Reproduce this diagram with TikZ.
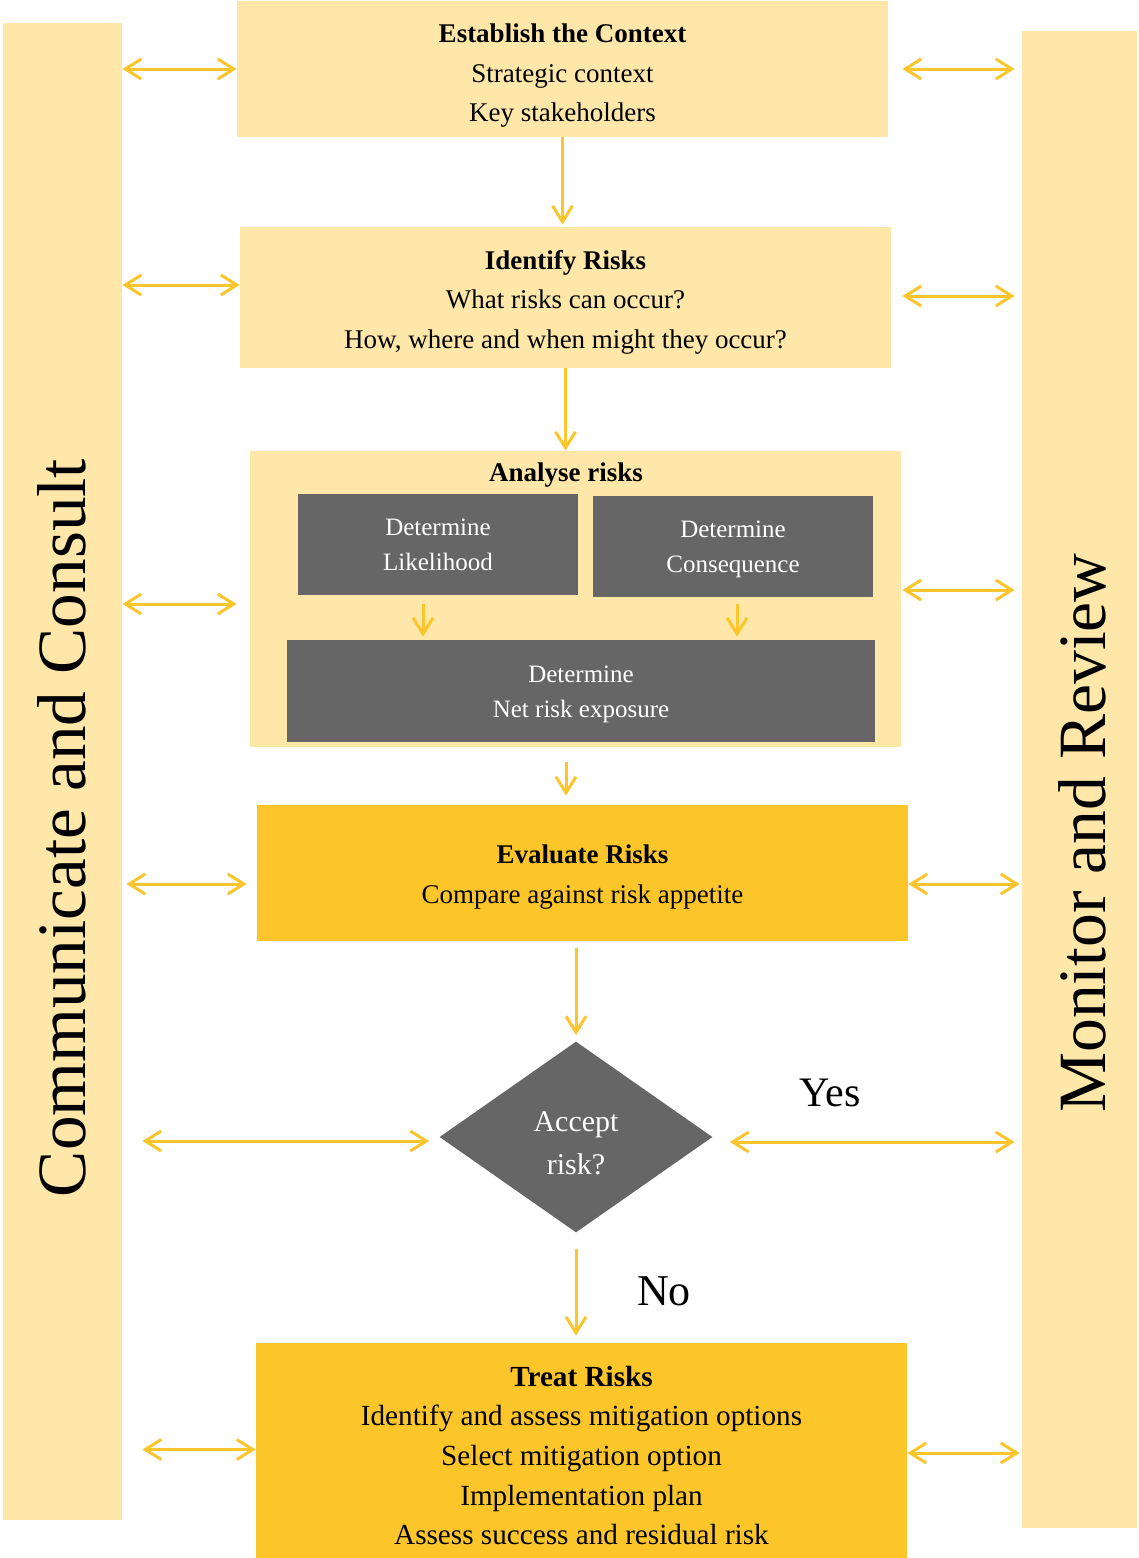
\documentclass[tikz,border=0pt]{standalone}
\usepackage{fontspec}
\setmainfont{Liberation Serif}
\usetikzlibrary{arrows.meta, positioning, shapes.geometric}
\definecolor{rmpale}{HTML}{FEE7A8}
\definecolor{rmgold}{HTML}{FCC62A}
\definecolor{rmarrow}{HTML}{FBC52C}
\definecolor{rmgrey}{HTML}{666666}

\begin{document}
\begin{tikzpicture}[
      x=0.5pt, y=-0.5pt,
      font=\fontsize{13.5}{19.75}\selectfont,
      pale/.style={fill=rmpale, inner sep=0pt, align=center},
      gold/.style={fill=rmgold, inner sep=0pt, align=center},
      grey/.style={fill=rmgrey, inner sep=0pt, minimum width=140pt},
      txt/.style={inner sep=0pt, align=center},
      greytxt/.style={txt, text=white, font=\fontsize{12.5}{17.5}\selectfont},
      side/.style={rotate=90, inner sep=0pt},
      ar/.style={-{Straight Barb[length=8pt,width=10pt]}, rmarrow, line width=1.5pt},
      dar/.style={{Straight Barb[length=8pt,width=10pt]}-{Straight Barb[length=8pt,width=10pt]},
                  rmarrow, line width=1.5pt},
    ]
    \useasboundingbox (0,0) rectangle (1139,1558);

    % side bars
    \node[pale, minimum width=59.5pt, minimum height=748.5pt] (cc) at (62.5,771.5) {};
    \node[pale, minimum width=57.5pt, minimum height=748.5pt] (mr) at (1079.5,779.5) {};
    \node[side, font=\fontsize{34.6}{40}\selectfont] (cctext) at (62,828) {Communicate and Consult};
    \node[side, font=\fontsize{33.8}{40}\selectfont] (mrtext) at (1082,833) {Monitor and Review};

    % main steps
    \node[pale, minimum width=325.5pt, minimum height=68pt,
          label={[txt, yshift=-3.5pt]center:{\textbf{Establish the Context}\\Strategic context\\Key stakeholders}}]
      (ctx) at (562.5,69) {};
    \node[pale, minimum width=325.5pt, minimum height=70.5pt,
          label={[txt, yshift=-2.25pt]center:{\textbf{Identify Risks}\\What risks can occur?\\How, where and when might they occur?}}]
      (ident) at (565.5,297.5) {};
    \node[pale, minimum width=325.5pt, minimum height=148pt] (analyse) at (575.5,599) {};
    \node[txt, font=\fontsize{13.5}{19.75}\selectfont\bfseries] (analysetitle) at (566,475) {Analyse risks};
    \node[grey, minimum height=50.5pt, label={[greytxt]center:{Determine\\Likelihood}}] (lik) at (438,544.5) {};
    \node[grey, minimum height=50.5pt, label={[greytxt, yshift=-1.5pt]center:{Determine\\Consequence}}] (con) at (733,546.5) {};
    \node[grey, minimum width=294pt, minimum height=51pt,
          label={[greytxt, yshift=-1.5pt]center:{Determine\\Net risk exposure}}] (net) at (581,691) {};
    \node[gold, minimum width=325.5pt, minimum height=68pt,
          label={[txt, yshift=-2pt]center:{\textbf{Evaluate Risks}\\Compare against risk appetite}}]
      (eval) at (582.5,873) {};
    \node[diamond, shape aspect=1.43, fill=rmgrey, inner sep=0pt,
          minimum width=136.5pt, minimum height=95.5pt,
          label={[txt, text=white, yshift=-3pt, font=\fontsize{15}{21.5}\selectfont]center:{Accept\\risk?}}]
      (accept) at (576,1137) {};
    \node[gold, minimum width=325.5pt, minimum height=110pt,
          label={[txt, yshift=-1.25pt, font=\fontsize{14.6}{19.85}\selectfont]center:{\textbf{Treat Risks}\\Identify and assess mitigation options\\Select mitigation option\\Implementation plan\\Assess success and residual risk}}]
      (treat) at (581.5,1453) {};

    \node[font=\fontsize{21}{24}\selectfont] (yes) at (830,1093) {Yes};
    \node[font=\fontsize{22}{24}\selectfont] (no) at (664,1291) {No};

    % flow
    \draw[ar, shorten >=1pt] (ctx.south) -- (ctx.south |- ident.north);
    \draw[ar] (ident.south) -- (ident.south |- analyse.north);
    \draw[ar, shorten <=4.5pt, shorten >=1.5pt] ([xshift=-7.5pt]lik.south) -- ([xshift=-7.5pt]lik.south |- net.north);
    \draw[ar, shorten <=3.5pt, shorten >=1.5pt] ([xshift=2pt]con.south) -- ([xshift=2pt]con.south |- net.north);
    \draw[ar, shorten <=7.5pt, shorten >=4.5pt] (analysetitle |- analyse.south) -- (analysetitle |- eval.north);
    \draw[ar, shorten <=3.5pt, shorten >=3pt] (accept |- eval.south) -- (accept.north);
    \draw[ar, shorten <=8pt, shorten >=3.5pt] (accept.south) -- (accept |- treat.north);

    % communicate and consult
    \draw[dar] (cc.east |- ctx.west) -- (ctx.west);
    \draw[dar] ([yshift=6.25pt]cc.east |- ident.west) -- ([yshift=6.25pt]ident.west);
    \draw[dar, shorten >=6.5pt] ([yshift=-2.5pt]cc.east |- analyse.west) -- ([yshift=-2.5pt]analyse.west);
    \draw[dar, shorten <=2pt, shorten >=5pt] ([yshift=-5.5pt]cc.east |- eval.west) -- ([yshift=-5.5pt]eval.west);
    \draw[dar, shorten <=10pt, shorten >=5pt] ([yshift=-2pt]cc.east |- accept.west) -- ([yshift=-2pt]accept.west);
    \draw[dar, shorten <=10pt] ([yshift=1.75pt]cc.east |- treat.west) -- ([yshift=1.75pt]treat.west);

    % monitor and review
    \draw[dar, shorten <=7pt, shorten >=3.5pt] (ctx.east) -- (ctx.east -| mr.west);
    \draw[dar, shorten <=5.5pt, shorten >=3.5pt] ([yshift=0.75pt]ident.east) -- ([yshift=0.75pt]ident.east -| mr.west);
    \draw[dar, shorten <=0.5pt, shorten >=3.5pt] ([yshift=4.5pt]analyse.east) -- ([yshift=4.5pt]analyse.east -| mr.west);
    \draw[dar, shorten >=1pt] ([yshift=-5.5pt]eval.east) -- ([yshift=-5.5pt]eval.east -| mr.west);
    \draw[dar, shorten <=8.5pt, shorten >=3.5pt] ([yshift=-2.5pt]accept.east) -- ([yshift=-2.5pt]accept.east -| mr.west);
    \draw[dar, shorten >=1pt] (treat.east) -- (treat.east -| mr.west);
  \end{tikzpicture}
\end{document}
